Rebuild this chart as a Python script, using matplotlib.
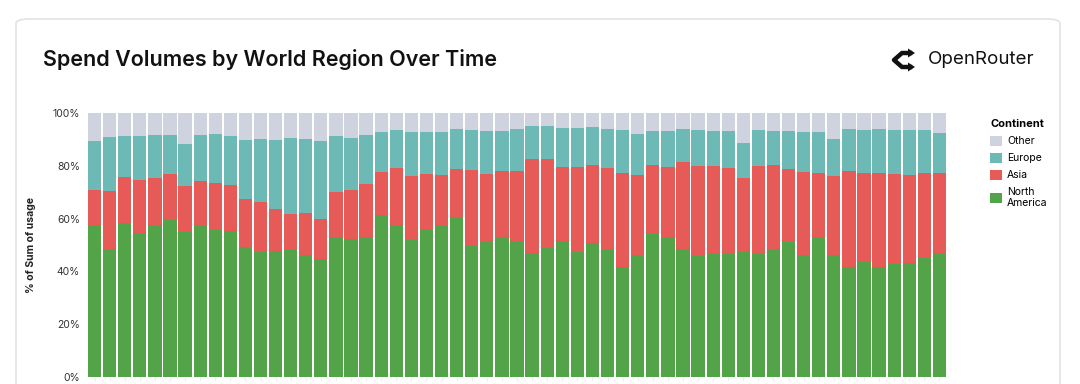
import numpy as np
import matplotlib.pyplot as plt
from matplotlib.patches import FancyBboxPatch, Patch, Polygon
from matplotlib.lines import Line2D

plt.rcParams['font.family'] = ['Inter', 'DejaVu Sans']

# share of spend per week (%)
north_america = [57.4, 48.3, 58.3, 54.5, 57.4, 59.3, 55.1, 57.4, 55.8, 55.3,
                 49.4, 47.3, 47.9, 48.5, 46.4, 44.6, 53.2, 52.3, 53.2, 61.5,
                 57.4, 52.0, 55.8, 57.4, 60.6, 49.7, 51.7, 53.2, 51.6, 47.1,
                 48.8, 51.4, 47.5, 50.7, 48.5, 41.6, 46.4, 54.0, 53.2, 48.5,
                 45.9, 46.6, 46.6, 47.5, 46.6, 48.5, 51.1, 46.4, 53.0, 46.4,
                 41.6, 43.5, 41.6, 42.8, 43.2, 45.0, 46.6]
asia = [13.3, 22.2, 17.5, 20.0, 17.9, 17.7, 17.1, 16.9, 17.5, 17.3,
        18.0, 19.1, 15.9, 13.4, 15.8, 15.4, 16.8, 18.7, 19.8, 16.2,
        21.6, 24.3, 21.0, 19.0, 18.1, 28.7, 25.1, 24.7, 26.5, 35.6,
        33.8, 28.2, 32.0, 29.5, 30.6, 35.8, 30.0, 26.2, 26.4, 32.9,
        34.1, 33.4, 32.6, 27.9, 33.4, 31.7, 27.7, 31.2, 24.4, 29.6,
        36.5, 33.6, 35.8, 34.0, 33.2, 32.4, 30.8]
europe = [18.8, 20.5, 15.6, 16.9, 16.2, 14.8, 15.9, 17.5, 18.6, 18.7,
          22.3, 23.6, 25.9, 28.7, 27.8, 29.5, 21.3, 19.6, 18.8, 15.1,
          14.5, 16.5, 16.0, 16.4, 15.1, 15.1, 16.5, 15.4, 15.7, 12.4,
          12.5, 14.6, 14.7, 14.6, 14.9, 16.1, 15.5, 13.1, 13.7, 12.6,
          13.5, 13.3, 14.1, 13.4, 13.6, 13.1, 14.5, 15.3, 15.4, 14.2,
          15.7, 16.4, 16.4, 16.7, 17.1, 16.1, 14.9]
other = [10.5, 9.0, 8.6, 8.6, 8.5, 8.2, 11.9, 8.2, 8.1, 8.7,
         10.3, 10.0, 10.3, 9.4, 10.0, 10.5, 8.7, 9.4, 8.2, 7.2,
         6.5, 7.2, 7.2, 7.2, 6.2, 6.5, 6.7, 6.7, 6.2, 4.9,
         4.9, 5.8, 5.8, 5.2, 6.0, 6.5, 8.1, 6.7, 6.7, 6.0,
         6.5, 6.7, 6.7, 11.2, 6.4, 6.7, 6.7, 7.1, 7.2, 9.8,
         6.2, 6.5, 6.2, 6.5, 6.5, 6.5, 7.7]

series = [('North America', north_america, '#53a449'),
          ('Asia', asia, '#e65a58'),
          ('Europe', europe, '#6cb9b5'),
          ('Other', other, '#cfd3df')]

W, H = 1080, 384
fig = plt.figure(figsize=(10.8, 3.84), dpi=100)
fig.patch.set_facecolor('white')

def fx(px):
    return px / W

def fy(py):
    return 1 - py / H

# card (runs past the bottom edge)
card = FancyBboxPatch((fx(16), -0.1), fx(1044), fy(19) + 0.1,
                      boxstyle='round,pad=0,rounding_size=0.012',
                      transform=fig.transFigure, facecolor='white',
                      edgecolor='#e3e3e6', linewidth=1.2, zorder=0)
fig.add_artist(card)

ax = fig.add_axes([fx(87), fy(377), fx(860), 264 / H])
x = np.arange(len(north_america))
bottom = np.zeros(len(x))
for name, vals, col in series:
    ax.bar(x, vals, bottom=bottom, width=0.88, color=col, linewidth=0)
    bottom += np.array(vals)

ax.set_xlim(-0.5, len(x) - 0.5)
ax.set_ylim(0, 100)
ax.set_yticks([0, 20, 40, 60, 80, 100])
ax.set_yticklabels(['0%', '20%', '40%', '60%', '80%', '100%'])
ax.tick_params(axis='y', length=0, labelsize=7.5, labelcolor='#333333', pad=5)
ax.tick_params(axis='x', length=3, color='#eeeeee', labelbottom=False)
ax.set_xticks(x)
for s in ax.spines.values():
    s.set_visible(False)
ax.set_ylabel('% of Sum of usage', fontsize=7.5, fontweight='bold',
              color='#222222', labelpad=12)

fig.text(fx(43), fy(60), 'Spend Volumes by World Region Over Time',
         fontsize=15.5, fontweight='semibold', color='#111111', va='center')
fig.text(fx(928), fy(60), 'OpenRouter', fontsize=13.5, color='#111111', va='center')

# logo
fig.add_artist(Line2D([fx(910), fx(902), fx(894), fx(902), fx(910)],
                      [fy(53), fy(53), fy(60), fy(67), fy(67)],
                      color='#111111', lw=3.2, solid_joinstyle='round',
                      transform=fig.transFigure))
for yy in (53, 67):
    fig.add_artist(Polygon([(fx(908), fy(yy - 4.5)), (fx(915), fy(yy)),
                            (fx(908), fy(yy + 4.5))], closed=True,
                           facecolor='#111111', edgecolor='none',
                           transform=fig.transFigure))

handles = [Patch(facecolor=c, label=n.replace(' ', '\n')) for n, v, c in series[::-1]]
leg = fig.legend(handles=handles, title='Continent', loc='upper left',
                 bbox_to_anchor=(fx(981), fy(110)), frameon=False,
                 fontsize=7.5, title_fontsize=8, handlelength=1.1, handleheight=1.1,
                 handletextpad=0.5, labelspacing=0.62, alignment='left')
leg.get_title().set_fontweight('bold')

fig.savefig('out.png', dpi=100)
